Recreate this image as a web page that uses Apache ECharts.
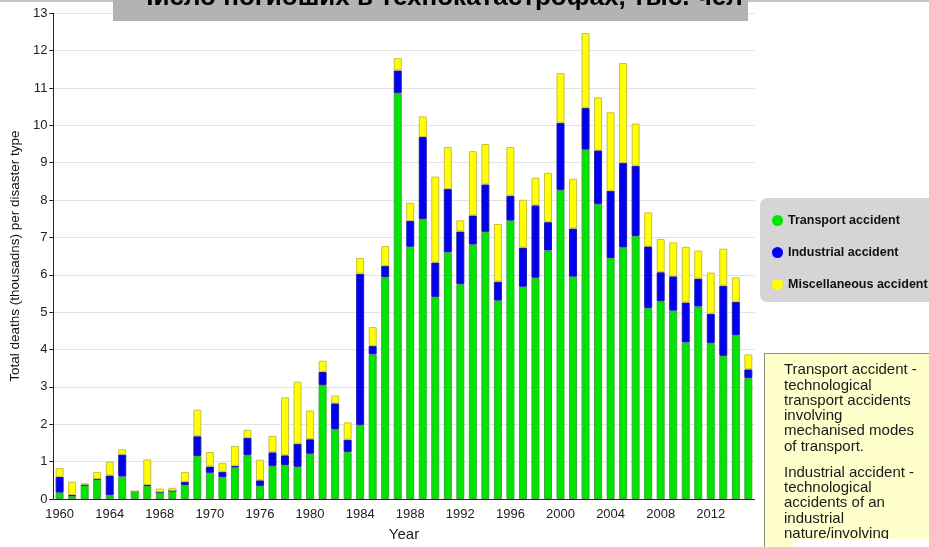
<!DOCTYPE html>
<html>
<head>
<meta charset="utf-8">
<script src="https://cdn.jsdelivr.net/npm/echarts@6/dist/echarts.min.js"></script>
<style>
  html, body { margin: 0; padding: 0; background: #fff; }
  #main { width: 929px; height: 547px; }
</style>
</head>
<body>
<div id="main"></div>
<script>
// years on the category axis (one bar per year)
const years = [
  "1960", "1961", "1962", "1963", "1964", "1965", "1966", "1967", "1968", "1969",
  "1970", "1971", "1972", "1973", "1974", "1975", "1976", "1977", "1978", "1979",
  "1980", "1981", "1982", "1983", "1984", "1985", "1986", "1987", "1988", "1989",
  "1990", "1991", "1992", "1993", "1994", "1995", "1996", "1997", "1998", "1999",
  "2000", "2001", "2002", "2003", "2004", "2005", "2006", "2007", "2008", "2009",
  "2010", "2011", "2012", "2013", "2014", "2015"
];
// labels printed under every 4th bar, as in the source picture
const tickLabels = ["1960", "1964", "1968", "1970", "1976", "1980", "1984", "1988",
  "1992", "1996", "2000", "2004", "2008", "2012"];

// thousands of deaths
const transport = [
  0.17, 0.08, 0.37, 0.52, 0.10, 0.60, 0.20, 0.35, 0.18, 0.22,
  0.37, 1.15, 0.70, 0.58, 0.84, 1.17, 0.35, 0.88, 0.91, 0.86,
  1.21, 3.05, 1.86, 1.26, 1.98, 3.87, 5.93, 10.86, 6.75, 7.49,
  5.40, 6.60, 5.75, 6.81, 7.15, 5.31, 7.45, 5.68, 5.92, 6.65,
  8.27, 5.95, 9.35, 7.89, 6.45, 6.73, 7.04, 5.11, 5.29, 5.04,
  4.19, 5.15, 4.17, 3.83, 4.38, 3.24
];
const industrial = [
  0.42, 0.03, 0.01, 0.02, 0.53, 0.59, 0.00, 0.03, 0.00, 0.00,
  0.09, 0.53, 0.17, 0.15, 0.05, 0.47, 0.15, 0.37, 0.26, 0.62,
  0.39, 0.35, 0.70, 0.33, 4.05, 0.23, 0.31, 0.61, 0.69, 2.20,
  0.93, 1.70, 1.41, 0.78, 1.27, 0.51, 0.67, 1.05, 1.94, 0.76,
  1.80, 1.29, 1.12, 1.44, 1.80, 2.27, 1.88, 1.65, 0.78, 0.92,
  1.07, 0.75, 0.79, 1.88, 0.90, 0.23
];
const misc = [
  0.24, 0.35, 0.04, 0.18, 0.37, 0.14, 0.02, 0.68, 0.10, 0.08,
  0.26, 0.71, 0.39, 0.24, 0.53, 0.21, 0.55, 0.44, 1.55, 1.66,
  0.77, 0.30, 0.21, 0.46, 0.42, 0.50, 0.53, 0.33, 0.49, 0.55,
  2.30, 1.12, 0.30, 1.72, 1.08, 1.54, 1.30, 1.28, 0.74, 1.32,
  1.33, 1.33, 2.00, 1.42, 2.10, 2.67, 1.13, 0.91, 0.89, 0.91,
  1.49, 0.75, 1.10, 0.99, 0.65, 0.40
];

const seriesNames = ["Transport accident", "Industrial accident", "Miscellaneous accident"];
const font = "Liberation Sans, Arial, sans-serif";

const myChart = echarts.init(document.getElementById("main"));

function barSeries(name, data, color, border) {
  return {
    name: name,
    type: "bar",
    stack: "total",
    barWidth: 8,
    data: data,
    itemStyle: { color: color, borderColor: border, borderWidth: 1 },
    emphasis: { disabled: true }
  };
}

const option = {
  backgroundColor: "#fff",
  animation: false,
  textStyle: { fontFamily: font },
  grid: { left: 45.5, right: 174.4, top: 13.3, bottom: 46 },
  legend: {
    orient: "vertical",
    left: 760,
    top: 198,
    padding: [16, 30, 11, 12],
    itemGap: 19,
    itemWidth: 11,
    itemHeight: 11,
    icon: "circle",
    backgroundColor: "#d5d5d5",
    borderRadius: 7,
    itemStyle: { borderWidth: 0 },
    textStyle: { fontSize: 12.5, fontWeight: "bold", color: "#111", fontFamily: font },
    data: seriesNames
  },
  xAxis: {
    type: "category",
    data: years,
    name: "Year",
    nameLocation: "middle",
    nameGap: 28,
    nameTextStyle: { fontSize: 15, color: "#222" },
    axisLine: { lineStyle: { color: "#222" } },
    axisTick: { interval: 1, alignWithLabel: true, length: 5, lineStyle: { color: "#222" } },
    axisLabel: {
      interval: 3,
      margin: 9,
      fontSize: 13,
      color: "#222",
      formatter: (v, i) => tickLabels[i / 4] || ""
    }
  },
  yAxis: {
    type: "value",
    min: 0,
    max: 13,
    interval: 1,
    name: "Total deaths (thousadns) per disaster type",
    nameLocation: "middle",
    nameGap: 23,
    nameTextStyle: { fontSize: 13.5, color: "#111" },
    axisLine: { show: true, lineStyle: { color: "#222" } },
    axisTick: { show: true, length: 4, lineStyle: { color: "#222" } },
    axisLabel: { fontSize: 13, color: "#222", margin: 6 },
    splitLine: { lineStyle: { color: "#e3e3e3" } }
  },
  series: [
    barSeries(seriesNames[0], transport, "#00e600", "#3aa83a"),
    barSeries(seriesNames[1], industrial, "#0000f5", "#1c1c9c"),
    barSeries(seriesNames[2], misc, "#ffff00", "#c8c040")
  ],
  graphic: [
    // thin grey strip along the top edge
    { type: "rect", shape: { x: 0, y: 0, width: 929, height: 2 }, style: { fill: "#c4c4c4" }, z: 100 },
    // title box, cut at the top of the picture
    { type: "rect", shape: { x: 113, y: 0, width: 635, height: 21 }, style: { fill: "#b3b3b3" }, z: 100 },
    {
      type: "text", z: 101,
      style: {
        x: 439, y: 11,
        text: "Число погибших в технокатастрофах, тыс. чел",
        fill: "#000", font: "bold 26px " + font,
        align: "center", verticalAlign: "bottom"
      }
    },
    // note box
    {
      type: "rect", z: 100,
      shape: { x: 764.5, y: 353.5, width: 200, height: 220 },
      style: { fill: "#ffffcc", stroke: "#222", lineWidth: 1, lineDash: [1, 1] }
    },
    {
      type: "text", z: 101,
      style: {
        x: 784, y: 362.5,
        text: "Transport accident -\ntechnological\ntransport accidents\ninvolving\nmechanised modes\nof transport.",
        fill: "#1a1a1a", font: "15px " + font, lineHeight: 15.3
      }
    },
    {
      type: "text", z: 101,
      style: {
        x: 784, y: 465,
        text: "Industrial accident -\ntechnological\naccidents of an\nindustrial\nnature/involving",
        fill: "#1a1a1a", font: "15px " + font, lineHeight: 15.3
      }
    },
    { type: "rect", z: 102, shape: { x: 793, y: 539, width: 140, height: 10 }, style: { fill: "#fff" } }
  ]
};

option && myChart.setOption(option);
</script>
</body>
</html>
